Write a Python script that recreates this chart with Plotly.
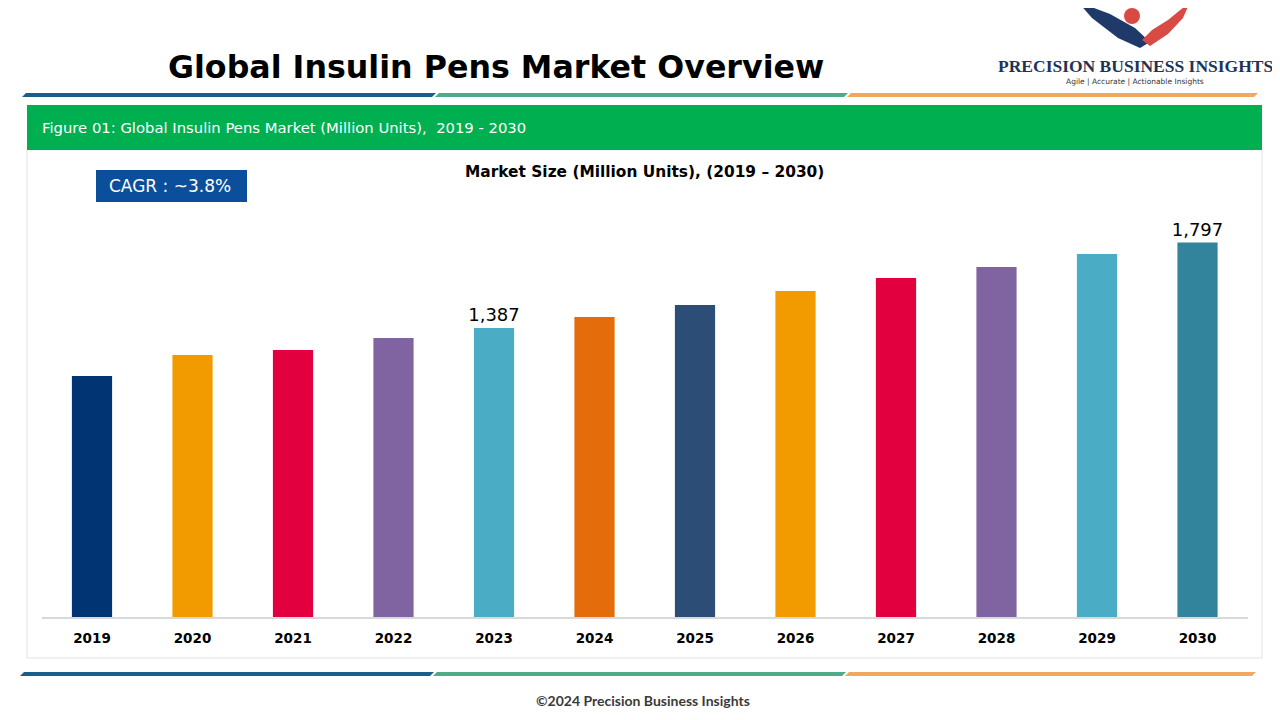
import plotly.graph_objects as go

# ---- data ----
years = ["2019", "2020", "2021", "2022", "2023", "2024", "2025", "2026", "2027", "2028", "2029", "2030"]
market_size = [1157, 1257, 1281, 1339, 1387, 1440, 1497, 1565, 1627, 1680, 1742, 1797]
bar_colors = ["#003473", "#F29B00", "#E2003F", "#8064A2", "#4BACC6", "#E46C0A",
              "#2C4D75", "#F29B00", "#E2003F", "#8064A2", "#4BACC6", "#31849B"]
labelled_years = ["2023", "2030"]

title_text = "Global Insulin Pens Market Overview"
header_text = "Figure 01: Global Insulin Pens Market (Million Units),  2019 - 2030"
chart_title = "Market Size (Million Units), (2019 \u2013 2030)"
cagr_text = "CAGR : ~3.8%"
footer_text = "\u00a92024 Precision Business Insights"

# page body has an 8px margin; size the figure to fill the rest of the window
OFF = 8
W, H = 1280 - 2 * OFF, 720 - 2 * OFF
def px(x):
    return (x - OFF) / W
def py(y):
    return 1 - (y - OFF) / H

FONT = "'DejaVu Sans', Lato, sans-serif"

bar_text = [f"{v:,}" if y in labelled_years else "" for y, v in zip(years, market_size)]

fig = go.Figure()
fig.add_trace(go.Bar(
    x=years, y=market_size,
    marker=dict(color=bar_colors, line=dict(width=0)),
    text=bar_text, textposition="outside", constraintext="none",
    textfont=dict(family=FONT, size=18, color="#000000"),
    cliponaxis=False, hoverinfo="x+y",
))

shapes = []
# chart panel
shapes.append(dict(type="rect", xref="paper", yref="paper",
                   x0=px(27), x1=px(1262), y0=py(658), y1=py(149),
                   line=dict(color="#e3e3e3", width=1), fillcolor="rgba(0,0,0,0)", layer="below"))
# green header
shapes.append(dict(type="rect", xref="paper", yref="paper",
                   x0=px(27), x1=px(1262), y0=py(150), y1=py(105),
                   line=dict(width=0), fillcolor="#00B050", layer="below"))
# CAGR box
shapes.append(dict(type="rect", xref="paper", yref="paper",
                   x0=px(96), x1=px(247), y0=py(202), y1=py(170),
                   line=dict(width=0), fillcolor="#0B4F9C", layer="below"))

def para(x0, x1, y0, y1, color, slant=4):
    path = (f"M {px(x0 + slant)} {py(y0)} L {px(x1 + slant)} {py(y0)} "
            f"L {px(x1)} {py(y1)} L {px(x0)} {py(y1)} Z")
    return dict(type="path", xref="paper", yref="paper", path=path,
                fillcolor=color, line=dict(width=0))

seg_colors = ["#1B5E8C", "#4FAA88", "#F0A75F"]
for (a, b), c in zip([(22, 432), (435, 844), (847, 1254)], seg_colors):
    shapes.append(para(a, b, 93, 97, c))
for (a, b), c in zip([(20, 430), (433, 842), (845, 1252)], seg_colors):
    shapes.append(para(a, b, 672, 676, c))

# simple logo emblem (stylised wings)
shapes.append(dict(type="path", xref="paper", yref="paper",
                   path=(f"M {px(1078)} {py(2)} L {px(1110)} {py(14)} L {px(1135)} {py(28)} "
                         f"L {px(1150)} {py(42)} L {px(1140)} {py(48)} L {px(1118)} {py(38)} "
                         f"L {px(1092)} {py(18)} Z"),
                   fillcolor="#1F3A68", line=dict(width=0)))
shapes.append(dict(type="path", xref="paper", yref="paper",
                   path=(f"M {px(1190)} {py(2)} L {px(1168)} {py(20)} L {px(1152)} {py(30)} "
                         f"L {px(1142)} {py(40)} L {px(1150)} {py(46)} L {px(1168)} {py(34)} "
                         f"L {px(1183)} {py(18)} Z"),
                   fillcolor="#D94A45", line=dict(width=0)))
shapes.append(dict(type="circle", xref="paper", yref="paper",
                   x0=px(1124), x1=px(1140), y0=py(24), y1=py(8),
                   fillcolor="#D94A45", line=dict(width=0)))

annotations = [
    dict(text=f"<b>{title_text}</b>", x=px(496), y=py(67), xref="paper", yref="paper",
         showarrow=False, font=dict(family=FONT, size=31.7, color="#000000"),
         xanchor="center", yanchor="middle"),
    dict(text=header_text, x=px(40), y=py(128), xref="paper", yref="paper",
         showarrow=False, font=dict(family=FONT, size=14.8, color="#ffffff"),
         xanchor="left", yanchor="middle"),
    dict(text=f"<b>{chart_title}</b>", x=px(644), y=py(172), xref="paper", yref="paper",
         showarrow=False, font=dict(family=FONT, size=15.4, color="#000000"),
         xanchor="center", yanchor="middle"),
    dict(text=cagr_text, x=px(170), y=py(186), xref="paper", yref="paper",
         showarrow=False, font=dict(family=FONT, size=17, color="#ffffff"),
         xanchor="center", yanchor="middle"),
    dict(text="<b>PRECISION BUSINESS INSIGHTS</b>", x=px(1135), y=py(66), xref="paper", yref="paper",
         showarrow=False, font=dict(family="'Liberation Serif', 'DejaVu Serif', serif", size=17.5, color="#1F3358"),
         xanchor="center", yanchor="middle"),
    dict(text="Agile | Accurate | Actionable Insights", x=px(1135), y=py(81), xref="paper", yref="paper",
         showarrow=False, font=dict(family=FONT, size=7.5, color="#333333"),
         xanchor="center", yanchor="middle"),
    dict(text=f"<b>{footer_text}</b>", x=px(643), y=py(700), xref="paper", yref="paper",
         showarrow=False, font=dict(family="Lato, sans-serif", size=14, color="#3a3a3a"),
         xanchor="center", yanchor="middle"),
]

fig.update_layout(
    width=W, height=H,
    margin=dict(l=0, r=0, t=0, b=0),
    paper_bgcolor="#ffffff", plot_bgcolor="rgba(0,0,0,0)",
    showlegend=False,
    bargap=0.6,
    shapes=shapes,
    annotations=annotations,
    xaxis=dict(domain=[px(41.75), px(1247.75)], showgrid=False, zeroline=False,
               showline=True, linecolor="#d9d9d9", linewidth=1.5,
               ticks="", tickfont=dict(family=FONT, size=13.5, color="#000000", weight="bold"),
               ticklabelstandoff=8, fixedrange=True),
    yaxis=dict(domain=[py(617), py(200)], range=[0, 417 / 0.20836],
               visible=False, fixedrange=True),
)

fig.write_html("out.html")
